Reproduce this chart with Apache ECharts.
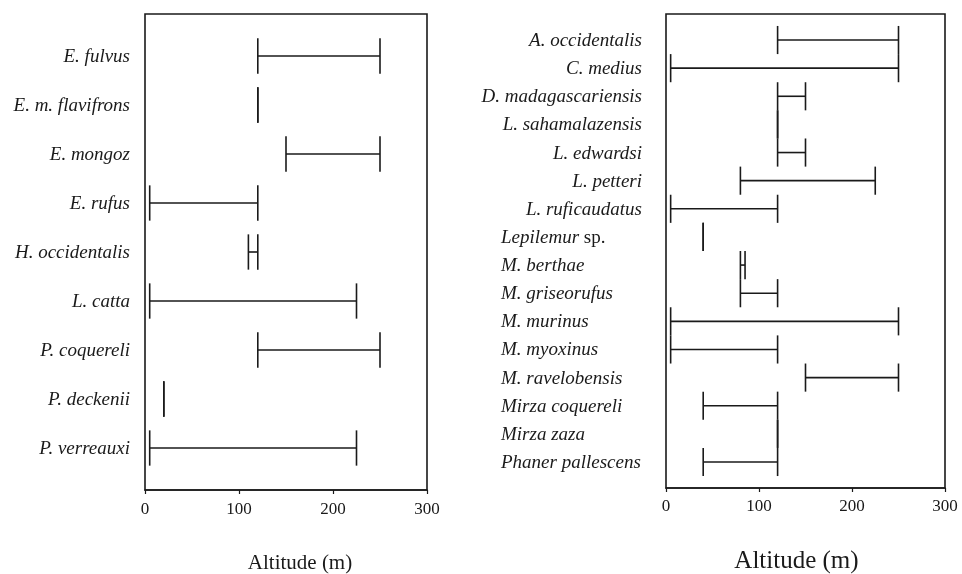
<!DOCTYPE html>
<html>
<head>
<meta charset="utf-8">
<script src="https://cdn.jsdelivr.net/npm/echarts@6/dist/echarts.min.js"></script>
<style>
html,body{margin:0;padding:0;background:#fff;}
#chart{width:962px;height:574px;}
</style>
</head>
<body>
<div id="chart"></div>
<script>
// ---- Data (altitude ranges in metres) ----
const leftSpecies = ['E. fulvus','E. m. flavifrons','E. mongoz','E. rufus','H. occidentalis','L. catta','P. coquereli','P. deckenii','P. verreauxi'];
const leftLow  = [120, 120, 150, 5, 110, 5, 120, 20, 5];
const leftHigh = [250, 120, 250, 120, 120, 225, 250, 20, 225];

const rightSpecies = ['A. occidentalis','C. medius','D. madagascariensis','L. sahamalazensis','L. edwardsi','L. petteri','L. ruficaudatus','Lepilemur sp.','M. berthae','M. griseorufus','M. murinus','M. myoxinus','M. ravelobensis','Mirza coquereli','Mirza zaza','Phaner pallescens'];
const rightLow  = [120, 5, 120, 120, 120, 80, 5, 40, 80, 80, 5, 5, 150, 40, 120, 40];
const rightHigh = [250, 250, 150, 120, 150, 225, 120, 40, 85, 120, 250, 120, 250, 120, 120, 120];

const xTicks = [0, 100, 200, 300];
const axisTitle = 'Altitude (m)';

// ---- Build chart ----
const chart = echarts.init(document.getElementById('chart'), null, {renderer: 'canvas'});
const INK = '#1a1a1a';
const SERIF = "Liberation Serif";

function makeData(low, high) {
  return low.map((v, i) => [v, high[i], i]);
}

// italic species name; a trailing " sp." stays upright
function labelText(name) {
  const m = name.match(/^(.*) (sp\.)$/);
  if (m) return '{i|' + m[1] + '}{u| ' + m[2] + '}';
  return '{i|' + name + '}';
}

function renderer(names, capHalf, labelGap, leftAlignFrom, leftAlignX, fs) {
  return function (params, api) {
    const lo = api.value(0), hi = api.value(1), idx = api.value(2);
    const p1 = api.coord([lo, idx]);
    const p2 = api.coord([hi, idx]);
    const h = api.size([0, 1])[1] * capHalf;
    const style = {stroke: INK, lineWidth: 1.6};
    const origin = api.coord([0, idx]);
    const children = [
      {type: 'line', shape: {x1: p1[0], y1: p1[1], x2: p2[0], y2: p2[1]}, style},
      {type: 'line', shape: {x1: p1[0], y1: p1[1] - h, x2: p1[0], y2: p1[1] + h}, style},
      {type: 'line', shape: {x1: p2[0], y1: p2[1] - h, x2: p2[0], y2: p2[1] + h}, style}
    ];
    const leftAligned = leftAlignFrom != null && idx >= leftAlignFrom;
    children.push({
      type: 'text',
      style: {
        text: labelText(names[idx]),
        x: leftAligned ? leftAlignX : origin[0] - labelGap,
        y: p1[1] + 1,
        align: leftAligned ? 'left' : 'right',
        verticalAlign: 'middle',
        fontFamily: SERIF,
        fontSize: fs,
        fill: INK,
        rich: {
          i: {fontFamily: SERIF, fontStyle: 'italic', fontSize: fs, color: INK},
          u: {fontFamily: SERIF, fontStyle: 'normal', fontSize: fs, color: INK}
        }
      }
    });
    return {type: 'group', children};
  };
}

function xAxisCfg(gridIndex, nameGap, nameSize, namePad, labelMargin) {
  return {
    type: 'value', gridIndex, min: xTicks[0], max: xTicks[xTicks.length - 1], interval: 100,
    position: 'bottom',
    name: axisTitle, nameLocation: 'middle', nameGap,
    nameTextStyle: {fontFamily: SERIF, fontSize: nameSize, color: INK, padding: namePad},
    axisLine: {show: true, onZero: false, lineStyle: {color: INK, width: 1.6}},
    axisTick: {show: true, length: 4, lineStyle: {color: INK, width: 1.2}},
    axisLabel: {fontFamily: SERIF, fontSize: 17, color: INK, margin: labelMargin},
    splitLine: {show: false}
  };
}

function yAxisCfg(gridIndex, n, padUnits) {
  return {
    type: 'value', gridIndex, inverse: true,
    min: -padUnits, max: n - 1 + padUnits,
    axisLine: {show: false}, axisTick: {show: false},
    axisLabel: {show: false}, splitLine: {show: false}
  };
}

const option = {
  backgroundColor: '#fff',
  animation: false,
  textStyle: {fontFamily: SERIF},
  grid: [
    {left: 145, top: 14, width: 282, height: 476, show: true, borderColor: INK, borderWidth: 1.6, containLabel: false, outerBoundsMode: 'none'},
    {left: 666, top: 14, width: 279, height: 474, show: true, borderColor: INK, borderWidth: 1.6, containLabel: false, outerBoundsMode: 'none'}
  ],
  xAxis: [xAxisCfg(0, 63, 21, [0, 0, 0, 28], 11), xAxisCfg(1, 61, 25, [0, 18, 0, 0], 10)],
  yAxis: [yAxisCfg(0, leftSpecies.length, 0.857), yAxisCfg(1, rightSpecies.length, 0.925)],
  series: [
    {
      type: 'custom', xAxisIndex: 0, yAxisIndex: 0,
      data: makeData(leftLow, leftHigh),
      encode: {x: [0, 1], y: 2},
      renderItem: renderer(leftSpecies, 0.36, 15, null, 0, 19),
      clip: false
    },
    {
      type: 'custom', xAxisIndex: 1, yAxisIndex: 1,
      data: makeData(rightLow, rightHigh),
      encode: {x: [0, 1], y: 2},
      renderItem: renderer(rightSpecies, 0.5, 24, 7, 501, 19),
      clip: false
    }
  ]
};
chart.setOption(option);
</script>
</body>
</html>
